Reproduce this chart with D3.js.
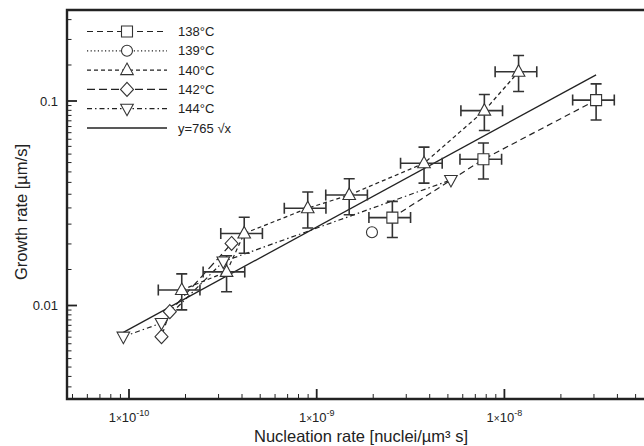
<!DOCTYPE html>
<html>
<head>
<meta charset="utf-8">
<script src="https://cdn.jsdelivr.net/npm/d3@7"></script>
<style>
  html, body { margin: 0; padding: 0; background: #fff; }
  svg { display: block; font-family: "Liberation Sans", Arial, Helvetica, sans-serif; }
</style>
</head>
<body>
<div id="chart"></div>
<script>
// ── data ─────────────────────────────────────────────────────────────────
const labels = ["138°C", "139°C", "140°C", "142°C", "144°C"];

const nuc138 = [2.53e-9, 7.73e-9, 3.08e-8];
const gr138  = [0.0269, 0.0519, 0.101];

const nuc139 = [1.97e-9];
const gr139  = [0.0228];

const nuc140 = [1.91e-10, 3.31e-10, 4.11e-10, 8.96e-10, 1.49e-9, 3.73e-9, 7.82e-9, 1.19e-8];
const gr140  = [0.0119, 0.0146, 0.0225, 0.0299, 0.0347, 0.0496, 0.0897, 0.139];

const nuc142 = [1.49e-10, 1.65e-10, 3.52e-10];
const gr142  = [0.00704, 0.00933, 0.0201];

const nuc144 = [9.33e-11, 1.49e-10, 3.18e-10, 5.19e-9];
const gr144  = [0.00704, 0.00821, 0.0164, 0.0411];

const xErrRel = 0.25;   // ±25 % on nucleation rate
const yErrRel = 0.20;   // ±20 % on growth rate

const fitCoef = 765;    // y = 765 √x
const fitRange = [9.33e-11, 3.08e-8];

const xTickMajor = [1e-10, 1e-9, 1e-8];
const xTickExp   = ["-10", "-9", "-8"];
const yTickMajor = [0.1, 0.01];
const yTickText  = ["0.1", "0.01"];

// ── layout ───────────────────────────────────────────────────────────────
const W = 644, H = 446;
const plotL = 67, plotT = 10, plotB = 399, plotR = 660;
const ink = "#222";

const svg = d3.select("#chart").append("svg")
  .attr("width", W)
  .attr("height", H);

const x = d3.scaleLog()
  .domain([1e-10, 1e-8])
  .range([129, 504.4]);

const y = d3.scaleLog()
  .domain([0.01, 0.1])
  .range([305.5, 101]);

const series = [
  { name: labels[0], xs: nuc138, ys: gr138, marker: "square",   dash: "6 4",         err: true,  line: true },
  { name: labels[1], xs: nuc139, ys: gr139, marker: "circle",   dash: "1.2 2.4",     err: false, line: true },
  { name: labels[2], xs: nuc140, ys: gr140, marker: "triangle", dash: "4 3",         err: true,  line: true },
  { name: labels[3], xs: nuc142, ys: gr142, marker: "diamond",  dash: "8 4",         err: false, line: true },
  { name: labels[4], xs: nuc144, ys: gr144, marker: "tridown",  dash: "5 3 1.5 3",   err: false, line: true }
];

// marker shapes, centred on 0,0
function markerPath(kind) {
  switch (kind) {
    case "square":   return "M-5.5,-5.5H5.5V5.5H-5.5Z";
    case "triangle": return "M0,-7L6.3,4.5H-6.3Z";
    case "tridown":  return "M0,7L6.3,-4.5H-6.3Z";
    case "diamond":  return "M0,-7L6.5,0L0,7L-6.5,0Z";
    default:         return d3.symbol(d3.symbolCircle, 95)();
  }
}

svg.append("defs").append("clipPath").attr("id", "plot-clip")
  .append("rect")
  .attr("x", plotL).attr("y", plotT)
  .attr("width", plotR - plotL).attr("height", plotB - plotT);

const plot = svg.append("g").attr("clip-path", "url(#plot-clip)");

// fit line
plot.append("path")
  .attr("d", d3.line()(fitRange.map(v => [x(v), y(fitCoef * Math.sqrt(v))])))
  .attr("fill", "none")
  .attr("stroke", ink)
  .attr("stroke-width", 1.3);

// series lines
series.forEach(s => {
  if (!s.line || s.xs.length < 2) return;
  const pts = s.xs.map((v, i) => [x(v), y(s.ys[i])]);
  plot.append("path")
    .attr("d", d3.line()(pts))
    .attr("fill", "none")
    .attr("stroke", ink)
    .attr("stroke-width", 1.2)
    .attr("stroke-dasharray", s.dash);
});

// error bars
const cap = 5.5;
series.filter(s => s.err).forEach(s => {
  s.xs.forEach((v, i) => {
    const cx = x(v), cy = y(s.ys[i]);
    const x0 = x(v * (1 - xErrRel)), x1 = x(v * (1 + xErrRel));
    const y0 = y(s.ys[i] * (1 - yErrRel)), y1 = y(s.ys[i] * (1 + yErrRel));
    const g = plot.append("g")
      .attr("stroke", "#333")
      .attr("stroke-width", 1.6)
      .attr("fill", "none");
    g.append("path").attr("d", `M${x0},${cy}H${x1}M${cx},${y0}V${y1}`);
    g.append("path").attr("d",
      `M${x0},${cy - cap}V${cy + cap}M${x1},${cy - cap}V${cy + cap}` +
      `M${cx - cap},${y0}H${cx + cap}M${cx - cap},${y1}H${cx + cap}`);
  });
});

// markers
series.forEach(s => {
  s.xs.forEach((v, i) => {
    plot.append("path")
      .attr("class", "point")
      .attr("transform", `translate(${x(v)},${y(s.ys[i])})`)
      .attr("d", markerPath(s.marker))
      .attr("fill", "#fff")
      .attr("stroke", "#333")
      .attr("stroke-width", 1.1);
  });
});

// ── axes (ticks point inward) ────────────────────────────────────────────
const axis = svg.append("g").attr("stroke", ink);

// minor y ticks: every 0.0005 below 0.01, every 0.005 up to 0.1, every 0.05 above
const yMinor = [];
for (let v = 0.0035; v < 0.00999; v += 0.0005) yMinor.push(+v.toFixed(4));
for (let v = 0.015; v < 0.0999; v += 0.005) yMinor.push(+v.toFixed(3));
for (let v = 0.15; v < 0.28; v += 0.05) yMinor.push(+v.toFixed(2));

yMinor.forEach(v => {
  axis.append("line")
    .attr("x1", plotL).attr("x2", plotL + 4.5)
    .attr("y1", y(v)).attr("y2", y(v))
    .attr("stroke-width", 1);
});
yTickMajor.forEach(v => {
  axis.append("line")
    .attr("x1", plotL).attr("x2", plotL + 10)
    .attr("y1", y(v)).attr("y2", y(v))
    .attr("stroke-width", 1.8);
});

const xMinor = [];
[1e-11, 1e-10, 1e-9, 1e-8].forEach(dec => {
  for (let k = 2; k <= 9; k++) {
    const v = k * dec;
    if (x(v) > plotL + 1 && x(v) < W) xMinor.push(v);
  }
});
xMinor.forEach(v => {
  axis.append("line")
    .attr("x1", x(v)).attr("x2", x(v))
    .attr("y1", plotB).attr("y2", plotB - 5)
    .attr("stroke-width", 1);
});
xTickMajor.forEach(v => {
  axis.append("line")
    .attr("x1", x(v)).attr("x2", x(v))
    .attr("y1", plotB).attr("y2", plotB - 10)
    .attr("stroke-width", 1.8);
});

// frame: left, bottom, top
axis.append("path")
  .attr("d", `M${plotR},${plotT}H${plotL}V${plotB}H${plotR}`)
  .attr("fill", "none")
  .attr("stroke-width", 2.4);

// tick labels
yTickMajor.forEach((v, i) => {
  svg.append("text")
    .attr("x", plotL - 9)
    .attr("y", y(v) + 4.5)
    .attr("text-anchor", "end")
    .attr("font-size", 13)
    .attr("fill", ink)
    .text(yTickText[i]);
});

xTickMajor.forEach((v, i) => {
  const t = svg.append("text")
    .attr("x", x(v))
    .attr("y", 422)
    .attr("text-anchor", "middle")
    .attr("font-size", 13)
    .attr("fill", ink);
  t.append("tspan").text("1");
  t.append("tspan").attr("font-size", 10).text("×");
  t.append("tspan").text("10");
  t.append("tspan").attr("font-size", 9).attr("dy", -6).text(xTickExp[i]);
});

// axis titles
svg.append("text")
  .attr("x", 361)
  .attr("y", 442)
  .attr("text-anchor", "middle")
  .attr("font-size", 16.5)
  .attr("fill", ink)
  .text("Nucleation rate [nuclei/µm³ s]");

svg.append("text")
  .attr("transform", "translate(27,212) rotate(-90)")
  .attr("text-anchor", "middle")
  .attr("font-size", 16.5)
  .attr("fill", ink)
  .text("Growth rate [µm/s]");

// ── legend ───────────────────────────────────────────────────────────────
const legend = svg.append("g");
const legendRows = series.map(s => ({ name: s.name, marker: s.marker, dash: s.dash }))
  .concat([{ name: "y=765 √x", marker: null, dash: null }]);

legendRows.forEach((r, i) => {
  const ly = 31.5 + i * 19.3;
  legend.append("line")
    .attr("x1", 87).attr("x2", 167)
    .attr("y1", ly).attr("y2", ly)
    .attr("stroke", ink)
    .attr("stroke-width", r.dash ? 1.2 : 1.3)
    .attr("stroke-dasharray", r.dash);
  if (r.marker) {
    legend.append("path")
      .attr("transform", `translate(127,${ly})`)
      .attr("d", markerPath(r.marker))
      .attr("fill", "#fff")
      .attr("stroke", "#333")
      .attr("stroke-width", 1.1);
  }
  legend.append("text")
    .attr("x", 178)
    .attr("y", ly + 4.5)
    .attr("font-size", 13)
    .attr("fill", ink)
    .text(r.name);
});
</script>
</body>
</html>
